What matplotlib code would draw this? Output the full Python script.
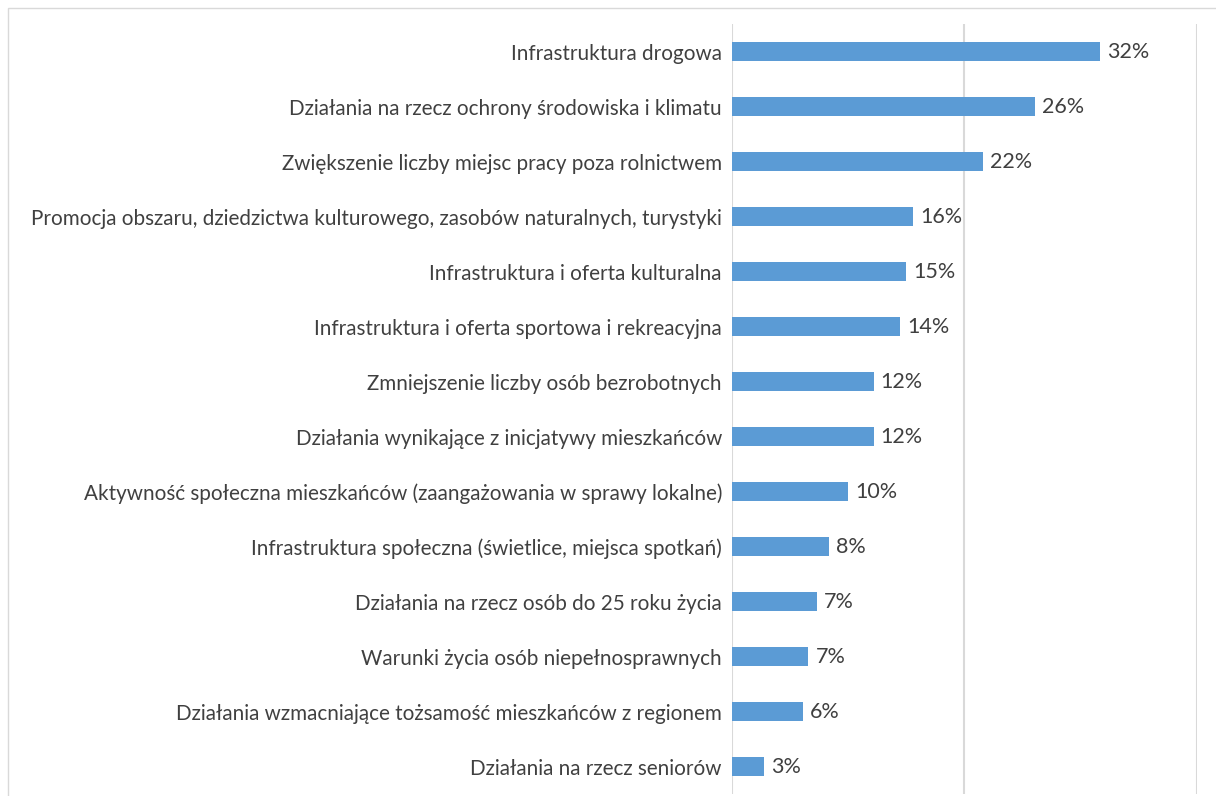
import matplotlib.pyplot as plt
from matplotlib.patches import Rectangle

categories = [
    "Infrastruktura drogowa",
    "Działania na rzecz ochrony środowiska i klimatu",
    "Zwiększenie liczby miejsc pracy poza rolnictwem",
    "Promocja obszaru, dziedzictwa kulturowego, zasobów naturalnych, turystyki",
    "Infrastruktura i oferta kulturalna",
    "Infrastruktura i oferta sportowa i rekreacyjna",
    "Zmniejszenie liczby osób bezrobotnych",
    "Działania wynikające z inicjatywy mieszkańców",
    "Aktywność społeczna mieszkańców (zaangażowania w sprawy lokalne)",
    "Infrastruktura społeczna (świetlice, miejsca spotkań)",
    "Działania na rzecz osób do 25 roku życia",
    "Warunki życia osób niepełnosprawnych",
    "Działania wzmacniające tożsamość mieszkańców z regionem",
    "Działania na rzecz seniorów",
]
values = [31.7, 26.1, 21.6, 15.6, 15.0, 14.5, 12.2, 12.2, 10.0, 8.4, 7.3, 6.6, 6.1, 2.8]
labels = ["32%", "26%", "22%", "16%", "15%", "14%", "12%", "12%", "10%",
          "8%", "7%", "7%", "6%", "3%"]

BAR = "#5B9BD5"
TXT = "#404040"
GRID = "#d9d9d9"

plt.rcParams["font.family"] = ["Lato", "DejaVu Sans"]

fig = plt.figure(figsize=(12.16, 7.96), dpi=100)
ax = fig.add_axes([731.7 / 1216, 2 / 796, (1196.7 - 731.7) / 1216, 770 / 796])

# chart border (Excel chart area frame, cropped at right/bottom)
fig.patches.append(Rectangle((8 / 1216, -0.1), 1.2, 1 - 8 / 796 + 0.1,
                             transform=fig.transFigure, fill=False,
                             edgecolor=GRID, linewidth=1.0))

y = list(range(len(categories)))
ax.barh(y, values, height=0.36, color=BAR, zorder=3)
for yi, v, lab in zip(y, values, labels):
    ax.text(v + 0.6, yi, lab, va="center", ha="left", fontsize=15.5, color=TXT)

ax.set_yticks(y)
ax.set_yticklabels(categories, fontsize=14.9, color=TXT)
ax.tick_params(axis="y", length=0, pad=7)
ax.tick_params(axis="x", length=0, labelbottom=False)
ax.set_ylim(len(categories) - 0.5, -0.5)
ax.set_xlim(0, 40)
ax.set_xticks([0, 20, 40])
ax.grid(axis="x", color=GRID, linewidth=1.5, zorder=0)
for s in ax.spines.values():
    s.set_visible(False)

fig.savefig("out.png", dpi=100)
